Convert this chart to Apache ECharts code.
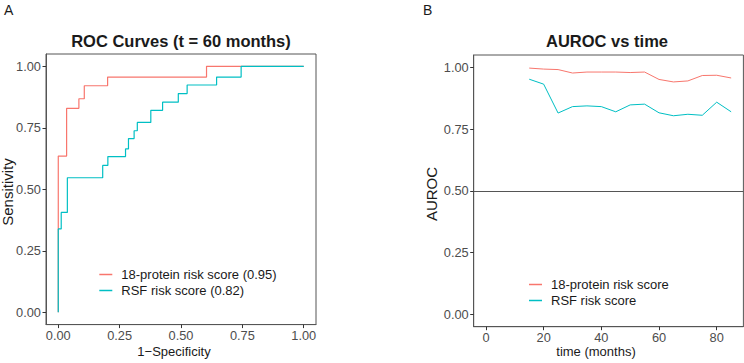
<!DOCTYPE html>
<html>
<head>
<meta charset="utf-8">
<script src="https://cdn.jsdelivr.net/npm/echarts@6/dist/echarts.min.js"></script>
<style>
html,body{margin:0;padding:0;background:#fff;}
#c{width:744px;height:363px;}
</style>
</head>
<body>
<div id="c"></div>
<script>
// Panel A: ROC curve corner points (1-Specificity, Sensitivity)
const rocFprProtein = [0, 0, 0.034, 0.084, 0.106, 0.201, 0.604, 1.0];
const rocTprProtein = [0, 0.635, 0.829, 0.868, 0.921, 0.956, 1.0, 1.0];
const rocFprRSF = [0, 0, 0.012, 0.037, 0.181, 0.202, 0.274, 0.286, 0.309, 0.322, 0.377, 0.425, 0.489, 0.525, 0.645, 0.745, 1.0];
const rocTprRSF = [0, 0.339, 0.406, 0.547, 0.597, 0.633, 0.664, 0.706, 0.738, 0.772, 0.821, 0.854, 0.889, 0.924, 0.956, 1.0, 1.0];
const rocNames = ['18-protein risk score (0.95)', 'RSF risk score (0.82)'];

// Panel B: AUROC vs time
const months = [15, 20, 25, 30, 35, 40, 45, 50, 55, 60, 65, 70, 75, 80, 85];
const aurocProtein = [0.997, 0.993, 0.991, 0.977, 0.981, 0.981, 0.981, 0.979, 0.981, 0.951, 0.941, 0.945, 0.967, 0.968, 0.957];
const aurocRSF = [0.952, 0.932, 0.815, 0.841, 0.844, 0.841, 0.820, 0.848, 0.851, 0.816, 0.804, 0.810, 0.806, 0.859, 0.820];
const aurocNames = ['18-protein risk score', 'RSF risk score'];

const ticksA = [0, 0.25, 0.5, 0.75, 1];
const ticksBx = [0, 20, 40, 60, 80];
const ticksBy = [0, 0.25, 0.5, 0.75, 1];

const zip = (a, b) => a.map((v, i) => [v, b[i]]);
const RED = '#F8766D', CYAN = '#00BFC4';
const FONT = 'Liberation Sans, Arial, sans-serif';
const fmt2 = v => v.toFixed(2);

function mkAxis(extra, ticks, fmt, margin) {
  return Object.assign({
    type: 'value',
    axisLine: { show: true, onZero: false, lineStyle: { color: '#555', width: 1 } },
    axisTick: { show: true, length: 3.5, inside: false, lineStyle: { color: '#333', width: 1 }, customValues: ticks },
    axisLabel: { customValues: ticks, formatter: fmt, color: '#4d4d4d', fontSize: 12.8, fontFamily: FONT, margin: margin },
    splitLine: { show: false }
  }, extra);
}

function mkLegend(name, left, top) {
  return {
    data: [name], orient: 'vertical', left: left, top: top, padding: 0,
    itemWidth: 13, itemHeight: 1.5, icon: 'rect', itemGap: 0,
    textStyle: { fontSize: 13, color: '#1a1a1a', fontFamily: FONT, lineHeight: 15, padding: [0, 0, 0, 4] }
  };
}

const chart = echarts.init(document.getElementById('c'), null, { renderer: 'svg' });
chart.setOption({
  animation: false,
  backgroundColor: '#fff',
  grid: [
    { left: 46, top: 54, width: 270, height: 270.6, show: true, borderColor: '#555', borderWidth: 1, containLabel: false },
    { left: 473.7, top: 55, width: 269.7, height: 271.7, show: true, borderColor: '#555', borderWidth: 1, containLabel: false }
  ],
  xAxis: [
    mkAxis({ gridIndex: 0, min: -0.05, max: 1.05 }, ticksA, fmt2, 4),
    mkAxis({ gridIndex: 1, min: -4.25, max: 89.25 }, ticksBx, v => String(v), 4)
  ],
  yAxis: [
    mkAxis({ gridIndex: 0, min: -0.05, max: 1.05 }, ticksA, fmt2, 5),
    mkAxis({ gridIndex: 1, min: -0.05, max: 1.05 }, ticksBy, fmt2, 5)
  ],
  legend: [
    mkLegend(rocNames[0], 99.3, 267),
    mkLegend(rocNames[1], 99.3, 283),
    mkLegend(aurocNames[0], 529, 277),
    mkLegend(aurocNames[1], 529, 293)
  ],
  series: [
    { name: rocNames[0], type: 'line', xAxisIndex: 0, yAxisIndex: 0, step: 'end', showSymbol: false, symbol: 'none',
      data: zip(rocFprProtein, rocTprProtein), lineStyle: { color: RED, width: 1.2 }, itemStyle: { color: RED } },
    { name: rocNames[1], type: 'line', xAxisIndex: 0, yAxisIndex: 0, step: 'end', showSymbol: false, symbol: 'none',
      data: zip(rocFprRSF, rocTprRSF), lineStyle: { color: CYAN, width: 1.2 }, itemStyle: { color: CYAN } },
    { name: aurocNames[0], type: 'line', xAxisIndex: 1, yAxisIndex: 1, showSymbol: false, symbol: 'none',
      data: zip(months, aurocProtein), lineStyle: { color: RED, width: 1 }, itemStyle: { color: RED },
      markLine: { silent: true, symbol: 'none', label: { show: false }, lineStyle: { color: '#555', width: 1.2, type: 'solid' }, data: [{ yAxis: 0.5 }] } },
    { name: aurocNames[1], type: 'line', xAxisIndex: 1, yAxisIndex: 1, showSymbol: false, symbol: 'none',
      data: zip(months, aurocRSF), lineStyle: { color: CYAN, width: 1 }, itemStyle: { color: CYAN } }
  ],
  graphic: [
    { type: 'text', x: 4, y: 3, style: { text: 'A', fontSize: 14, fontFamily: FONT, fill: '#1a1a1a' } },
    { type: 'text', x: 423, y: 3, style: { text: 'B', fontSize: 14, fontFamily: FONT, fill: '#1a1a1a' } },
    { type: 'text', x: 181, y: 41, style: { text: 'ROC Curves (t = 60 months)', fontSize: 16.5, fontWeight: 'bold', fontFamily: FONT, fill: '#1a1a1a', align: 'center', verticalAlign: 'middle' } },
    { type: 'text', x: 607, y: 41, style: { text: 'AUROC vs time', fontSize: 16.5, fontWeight: 'bold', fontFamily: FONT, fill: '#1a1a1a', align: 'center', verticalAlign: 'middle' } },
    { type: 'text', x: 174, y: 351, style: { text: '1\u2212Specificity', fontSize: 13, fontFamily: FONT, fill: '#1a1a1a', align: 'center', verticalAlign: 'middle' } },
    { type: 'text', x: 596, y: 351, style: { text: 'time (months)', fontSize: 13, fontFamily: FONT, fill: '#1a1a1a', align: 'center', verticalAlign: 'middle' } },
    { type: 'text', x: 7.5, y: 192, rotation: Math.PI / 2, style: { text: 'Sensitivity', fontSize: 15, fontFamily: FONT, fill: '#1a1a1a', align: 'center', verticalAlign: 'middle' } },
    { type: 'text', x: 431, y: 194, rotation: Math.PI / 2, style: { text: 'AUROC', fontSize: 15, fontFamily: FONT, fill: '#1a1a1a', align: 'center', verticalAlign: 'middle' } }
  ]
});
</script>
</body>
</html>
